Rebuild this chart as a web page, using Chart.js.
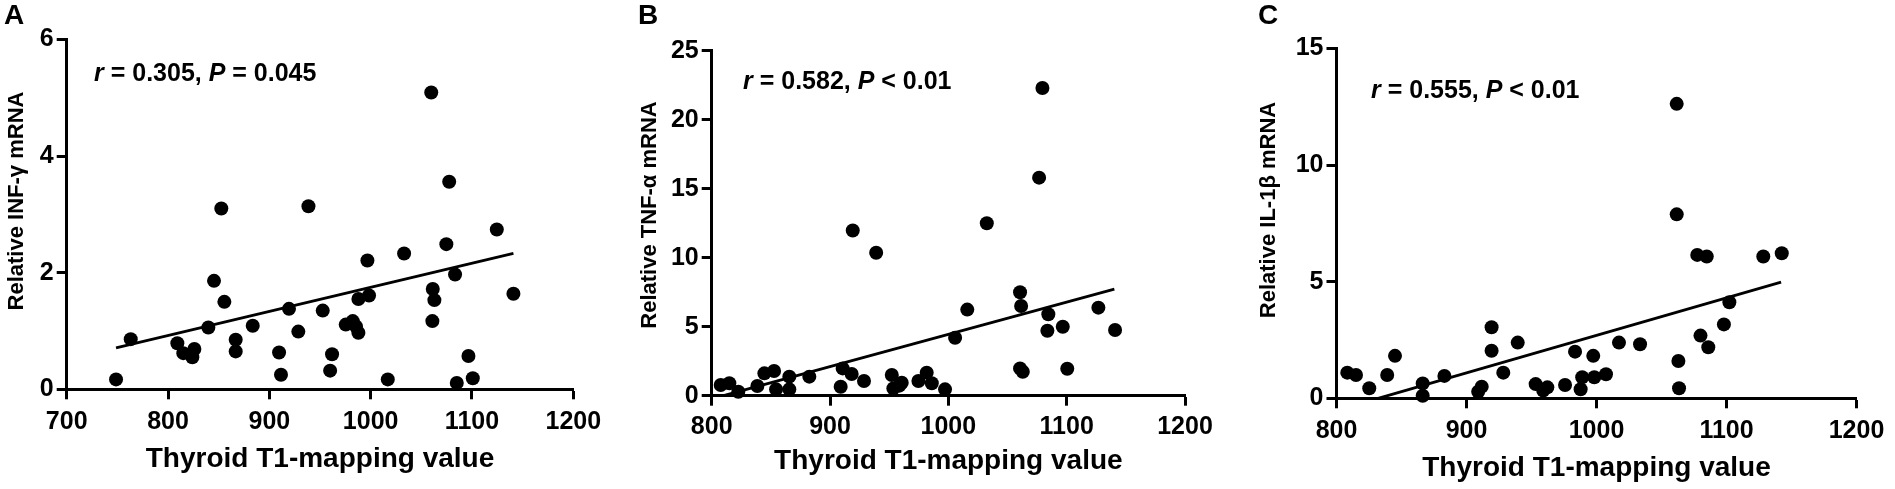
<!DOCTYPE html>
<html>
<head>
<meta charset="utf-8">
<script src="https://cdn.jsdelivr.net/npm/chart.js@4.4.1/dist/chart.umd.min.js"></script>
<style>
html, body { margin: 0; padding: 0; background: #fff; }
body { width: 1895px; height: 489px; position: relative; overflow: hidden; font-family: "Liberation Sans", Arial, sans-serif; color: #000; }
.panel { position: absolute; top: 0; height: 489px; }
.letter { position: absolute; font-weight: bold; font-size: 28px; line-height: 28px; }
.stat { position: absolute; font-weight: bold; font-size: 25px; line-height: 25px; white-space: nowrap; }
.ytitle { position: absolute; font-weight: bold; font-size: 22px; line-height: 22px; white-space: nowrap; transform: translate(-50%, -50%) rotate(-90deg); }
</style>
</head>
<body>
<div class="panel" style="left:0px;width:614px"><canvas id="chartA"></canvas></div>
<div class="panel" style="left:633px;width:592px"><canvas id="chartB"></canvas></div>
<div class="panel" style="left:1252px;width:643px"><canvas id="chartC"></canvas></div>

<div class="letter" style="left:4px;top:1px">A</div>
<div class="letter" style="left:638px;top:1px">B</div>
<div class="letter" style="left:1258px;top:1px">C</div>

<div class="ytitle" style="left:16px;top:201px">Relative INF-γ mRNA</div>
<div class="ytitle" style="left:649px;top:215px">Relative TNF-α mRNA</div>
<div class="ytitle" style="left:1268px;top:210px">Relative IL-1β mRNA</div>

<div class="stat" style="left:94px;top:60px"><i>r</i> = 0.305, <i>P</i> = 0.045</div>
<div class="stat" style="left:743px;top:68px"><i>r</i> = 0.582, <i>P</i> &lt; 0.01</div>
<div class="stat" style="left:1371px;top:77px"><i>r</i> = 0.555, <i>P</i> &lt; 0.01</div>

<script>
// panel A: INF-γ
const infX = [748.7, 763.2, 809.2, 815.1, 824, 826, 839.8, 845.4, 852.6, 855.6, 866.8, 866.8, 883.6, 909.6, 911.5, 919.4, 928.6, 938.6, 952.7, 960, 961.9, 975.4, 982.3, 985.5, 987.9, 987.9, 996.8, 998.4, 1016.9, 1033, 1061.3, 1062.9, 1060.9, 1059.8, 1074.7, 1077.5, 1083.3, 1085, 1096.5, 1100.8, 1124.5, 1140.9];
const infY = [0.17, 0.86, 0.79, 0.62, 0.55, 0.69, 1.06, 1.86, 3.10, 1.50, 0.85, 0.65, 1.09, 0.63, 0.25, 1.38, 0.99, 3.14, 1.35, 0.32, 0.60, 1.11, 1.17, 1.08, 0.97, 1.55, 2.21, 1.61, 0.17, 2.33, 1.72, 1.53, 1.17, 5.09, 2.49, 3.56, 1.97, 0.11, 0.57, 0.19, 2.74, 1.64];
const infFitX = [748.7, 1140.9];
const infFitY = [0.71, 2.33];

// panel B: TNF-α
const tnfX = [807.6, 814.9, 822.5, 838.6, 844.5, 852.7, 854.4, 865.6, 865.6, 882.5, 909, 910.7, 918.3, 919.2, 928.7, 939, 952.2, 953.5, 958.6, 960.6, 974.7, 981.7, 986, 997.2, 1005.7, 1016, 1032.5, 1060.6, 1061.5, 1060.6, 1062.9, 1076.7, 1079.5, 1084.5, 1083.7, 1096.7, 1100.5, 1126.8, 1140.9];
const tnfY = [0.78, 0.90, 0.29, 0.70, 1.62, 1.79, 0.46, 1.38, 0.46, 1.38, 0.65, 1.98, 1.57, 11.97, 1.06, 10.36, 1.50, 0.53, 0.73, 0.94, 1.06, 1.67, 0.90, 0.46, 4.20, 6.24, 12.50, 7.50, 6.50, 1.98, 1.74, 15.80, 22.30, 5.90, 4.71, 5.00, 1.95, 6.38, 4.76];
const tnfFitX = [810, 1140.3];
const tnfFitY = [0, 7.73];

// panel C: IL-1β
const ilX = [808.3, 815, 825.2, 839, 845, 866.3, 866.3, 883, 909, 911.7, 919.3, 919.3, 928.3, 939.4, 953.2, 959, 962.2, 975.8, 983.5, 987.8, 989, 997.5, 998.3, 1007.3, 1017.3, 1033.5, 1061.7, 1061.7, 1063, 1063.5, 1077.5, 1084.8, 1080, 1086, 1098, 1102.2, 1128.3, 1142.5];
const ilY = [1.10, 1.00, 0.43, 1.00, 1.82, 0.64, 0.11, 0.96, 0.28, 0.50, 3.05, 2.04, 1.10, 2.39, 0.61, 0.33, 0.47, 0.57, 2.00, 0.39, 0.90, 1.82, 0.90, 1.03, 2.39, 2.32, 12.63, 7.89, 1.60, 0.43, 6.15, 6.08, 2.69, 2.19, 3.17, 4.12, 6.08, 6.22];
const ilFitX = [832, 1142];
const ilFitY = [0, 4.98];

const xTicksA = [700, 800, 900, 1000, 1100, 1200];
const xTicksBC = [800, 900, 1000, 1100, 1200];
const yTicksA = [0, 2, 4, 6];
const yTicksB = [0, 5, 10, 15, 20, 25];
const yTicksC = [0, 5, 10, 15];

const xTitle = 'Thyroid T1-mapping value';

Chart.defaults.color = '#000';
Chart.defaults.font.family = '"Liberation Sans", Arial, sans-serif';

// page geometry of each plot box (canvas left/width, axis pixel edges)
const boxA = { left: 0, width: 614, plotL: 66.7, plotR: 573.3, plotT: 39.5, plotB: 389.3, xAxisH: 86.9, xTickPad: 8.1 };
const boxB = { left: 633, width: 592, plotL: 711.7, plotR: 1185, plotT: 50.7, plotB: 395.7, xAxisH: 82.1, xTickPad: 6.5 };
const boxC = { left: 1252, width: 643, plotL: 1336.5, plotR: 1856.5, plotT: 48.6, plotB: 398.3, xAxisH: 87.0, xTickPad: 8.2 };

function toPoints(xs, ys) {
    return xs.map((x, i) => ({ x: x, y: ys[i] }));
}

function axisGrid() {
    return { display: true, drawOnChartArea: false, drawTicks: true, tickLength: 10, tickWidth: 3, tickColor: '#000' };
}

function makePanel(id, xs, ys, fitX, fitY, xTicks, yTicks, box) {
    return new Chart(document.getElementById(id), {
        type: 'scatter',
        data: {
            datasets: [
                { data: toPoints(fitX, fitY), showLine: true, borderColor: '#000', borderWidth: 2.8, pointRadius: 0, clip: false },
                { data: toPoints(xs, ys), backgroundColor: '#000', borderWidth: 0, pointRadius: 7, clip: false }
            ]
        },
        options: {
            responsive: true,
            maintainAspectRatio: false,
            animation: false,
            layout: {
                padding: {
                    left: 0,
                    top: box.plotT,
                    right: box.left + box.width - box.plotR,
                    bottom: 489 - box.plotB - box.xAxisH
                }
            },
            plugins: { legend: { display: false }, tooltip: { enabled: false } },
            scales: {
                x: {
                    type: 'linear',
                    min: xTicks[0],
                    max: xTicks[xTicks.length - 1],
                    afterBuildTicks: s => { s.ticks = xTicks.map(v => ({ value: v })); },
                    afterFit: s => { s.height = box.xAxisH; },
                    ticks: { font: { size: 25, weight: 'bold' }, padding: box.xTickPad, maxRotation: 0, callback: v => String(v) },
                    title: { display: true, text: xTitle, font: { size: 28, weight: 'bold' }, padding: { top: 0, bottom: 0 } },
                    grid: axisGrid(),
                    border: { display: true, color: '#000', width: 3 }
                },
                y: {
                    type: 'linear',
                    min: yTicks[0],
                    max: yTicks[yTicks.length - 1],
                    afterBuildTicks: s => { s.ticks = yTicks.map(v => ({ value: v })); },
                    afterFit: s => { s.width = box.plotL - box.left; },
                    ticks: { font: { size: 25, weight: 'bold' }, padding: 3, callback: v => String(v) },
                    grid: axisGrid(),
                    border: { display: true, color: '#000', width: 3 }
                }
            }
        }
    });
}

makePanel('chartA', infX, infY, infFitX, infFitY, xTicksA, yTicksA, boxA);
makePanel('chartB', tnfX, tnfY, tnfFitX, tnfFitY, xTicksBC, yTicksB, boxB);
makePanel('chartC', ilX, ilY, ilFitX, ilFitY, xTicksBC, yTicksC, boxC);
</script>
</body>
</html>
